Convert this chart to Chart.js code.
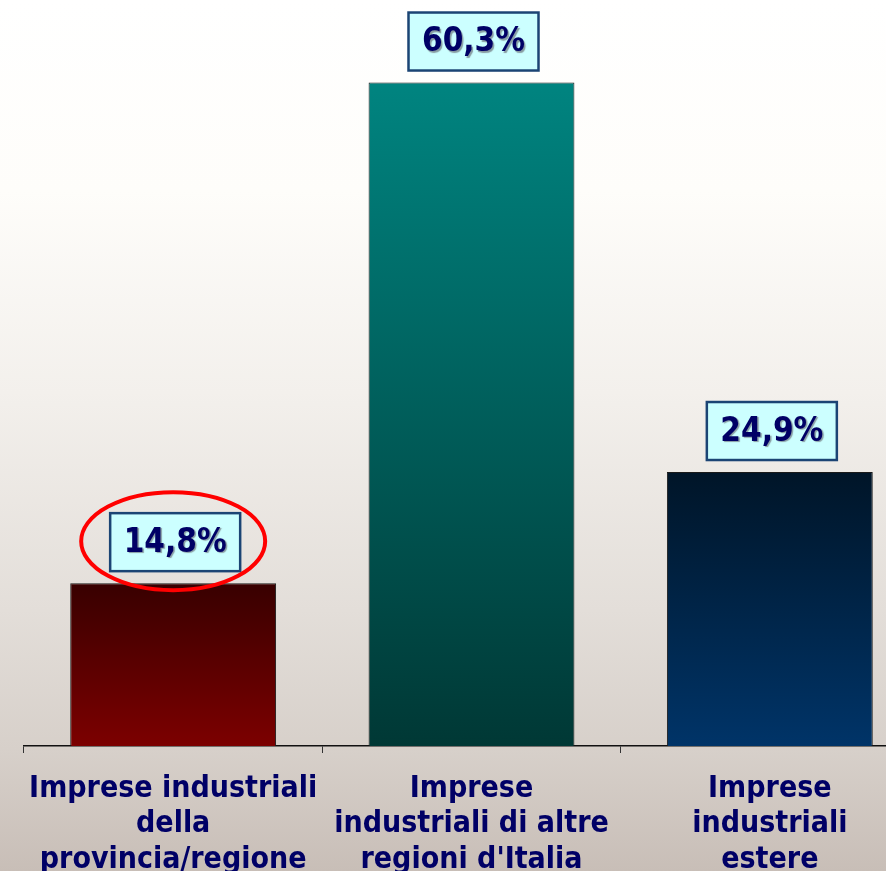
<!DOCTYPE html>
<html>
<head>
<meta charset="utf-8">
<script src="https://cdn.jsdelivr.net/npm/chart.js@4"></script>
<style>
    html, body { margin: 0; padding: 0; overflow: hidden; }
    body {
        width: 886px; height: 871px;
        background: linear-gradient(to bottom, #ffffff 0%, #fefdfa 22%, #f3f0ec 45%, #e3ded9 70%, #d7d0ca 86%, #c8beb7 100%);
    }
    #wrap { position: relative; width: 936px; height: 871px; }
</style>
</head>
<body>
<div id="wrap"><canvas id="chart"></canvas></div>
<script>
const categories = [
    ['Imprese industriali', 'della', 'provincia/regione'],
    ['Imprese', 'industriali di altre', "regioni d'Italia"],
    ['Imprese', 'industriali', 'estere']
];
const shares = [14.8, 60.3, 24.9];
const valueLabels = ['14,8%', '60,3%', '24,9%'];
const barGradients = [
    ['#380000', '#7c0000'],
    ['#008480', '#003835'],
    ['#001528', '#003468']
];
const highlighted = [true, false, false];

function barFill(context) {
    const chart = context.chart;
    if (!chart.chartArea) return barGradients[context.dataIndex][1];
    const y = chart.scales.y;
    const top = y.getPixelForValue(context.raw);
    const bottom = y.getPixelForValue(0);
    const g = chart.ctx.createLinearGradient(0, top, 0, bottom);
    g.addColorStop(0, barGradients[context.dataIndex][0]);
    g.addColorStop(1, barGradients[context.dataIndex][1]);
    return g;
}

const valueBoxes = {
    id: 'valueBoxes',
    afterDatasetsDraw(chart) {
        const ctx = chart.ctx;
        const meta = chart.getDatasetMeta(0);
        meta.data.forEach((bar, i) => {
            const w = 130, h = 58;
            const cx = bar.x + 2;
            const bottom = bar.y - 12;
            const left = cx - w / 2, top = bottom - h;
            ctx.save();
            ctx.fillStyle = '#ccffff';
            ctx.fillRect(left, top, w, h);
            ctx.lineWidth = 2.5;
            ctx.strokeStyle = '#1b4474';
            ctx.strokeRect(left, top, w, h);

            ctx.font = 'bold 33px "DejaVu Sans Condensed", "DejaVu Sans", sans-serif';
            ctx.textAlign = 'center';
            ctx.textBaseline = 'middle';
            ctx.shadowColor = 'rgba(90,90,100,0.6)';
            ctx.shadowOffsetX = 1.5;
            ctx.shadowOffsetY = 1.5;
            ctx.shadowBlur = 1;
            ctx.fillStyle = '#000066';
            ctx.fillText(valueLabels[i], cx, top + h / 2 + 1);
            ctx.restore();

            if (highlighted[i]) {
                ctx.save();
                ctx.beginPath();
                ctx.ellipse(cx - 2, top + h / 2 - 1, 92, 49, 0, 0, Math.PI * 2);
                ctx.lineWidth = 4;
                ctx.strokeStyle = '#ff0000';
                ctx.stroke();
                ctx.restore();
            }
        });
    }
};

new Chart(document.getElementById('chart'), {
    type: 'bar',
    data: {
        labels: categories,
        datasets: [{
            data: shares,
            backgroundColor: barFill,
            borderColor: '#1a1a1a',
            borderWidth: 1,
            barPercentage: 0.69,
            categoryPercentage: 1
        }]
    },
    options: {
        responsive: true,
        maintainAspectRatio: false,
        animation: false,
        layout: { padding: { left: 24, right: 17, top: 0, bottom: 0 } },
        plugins: {
            legend: { display: false },
            tooltip: { enabled: false }
        },
        scales: {
            x: {
                offset: true,
                grid: {
                    display: true,
                    drawOnChartArea: false,
                    drawTicks: true,
                    tickLength: 7,
                    color: '#333333',
                    offset: true
                },
                border: { display: true, color: '#111111', width: 1.5 },
                ticks: {
                    color: '#000066',
                    padding: 19,
                    maxRotation: 0,
                    autoSkip: false,
                    font: { family: '"Liberation Sans Narrow", "DejaVu Sans Condensed", sans-serif', size: 30, weight: 'bold', lineHeight: 1.17 }
                },
                afterFit: scale => { scale.height = 125; }
            },
            y: {
                display: false,
                min: 0,
                max: 67.8
            }
        }
    },
    plugins: [valueBoxes]
});
</script>
</body>
</html>
